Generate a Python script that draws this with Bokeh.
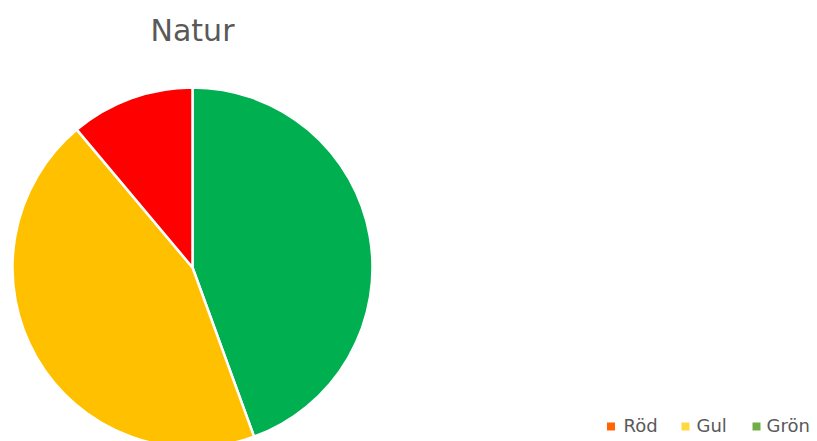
import math
from bokeh.plotting import figure
from bokeh.models import Range1d, ColumnDataSource
from bokeh.core.properties import value
from bokeh.embed import file_html
from bokeh.resources import INLINE

# Data
categories = ["Röd", "Gul", "Grön"]
values = [1, 4, 4]
pie_colors = ["#FF0000", "#FFC000", "#00B050"]
legend_colors = ["#FF6600", "#FFD840", "#70AD47"]
title_text = "Natur"

W, H = 817, 441
p = figure(width=W, height=H, output_backend="svg", toolbar_location=None,
           x_range=Range1d(0, W), y_range=Range1d(0, H), min_border=0)
p.axis.visible = False
p.grid.visible = False
p.outline_line_color = None
p.background_fill_color = "white"

# Pie: drawn clockwise from the top, starting with the last category
cx, cy, r = 192, H - 267, 180
order = list(reversed(range(len(categories))))
total = sum(values)
cum = 0.0
starts, ends, cols = [], [], []
for i in order:
    a0 = math.pi / 2 - cum / total * 2 * math.pi
    cum += values[i]
    a1 = math.pi / 2 - cum / total * 2 * math.pi
    starts.append(a0)
    ends.append(a1)
    cols.append(pie_colors[i])
src = ColumnDataSource(dict(x=[cx] * len(order), y=[cy] * len(order),
                            start=starts, end=ends, color=cols))
p.wedge(x="x", y="y", radius=r, radius_units="data", start_angle="start",
        end_angle="end", direction="clock", fill_color="color",
        line_color="white", line_width=2.5, source=src)

# Title
p.text(x=[cx], y=[H - 30], text=[title_text], text_font=value("DejaVu Sans"),
       text_font_size="30px", text_color="#595959", text_align="center",
       text_baseline="middle")

# Legend
sq_x = [610.5, 685, 756]
tx_x = [623, 696, 766]
ly = H - 426
p.scatter(x=sq_x, y=[ly] * 3, marker="square", size=8, color=legend_colors,
          line_color=None)
p.text(x=tx_x, y=[ly + 1] * 3, text=categories, text_font=value("DejaVu Sans"),
       text_font_size="18px", text_color="#595959", text_align="left",
       text_baseline="middle")

open("out.html", "w").write(file_html(p, INLINE))
